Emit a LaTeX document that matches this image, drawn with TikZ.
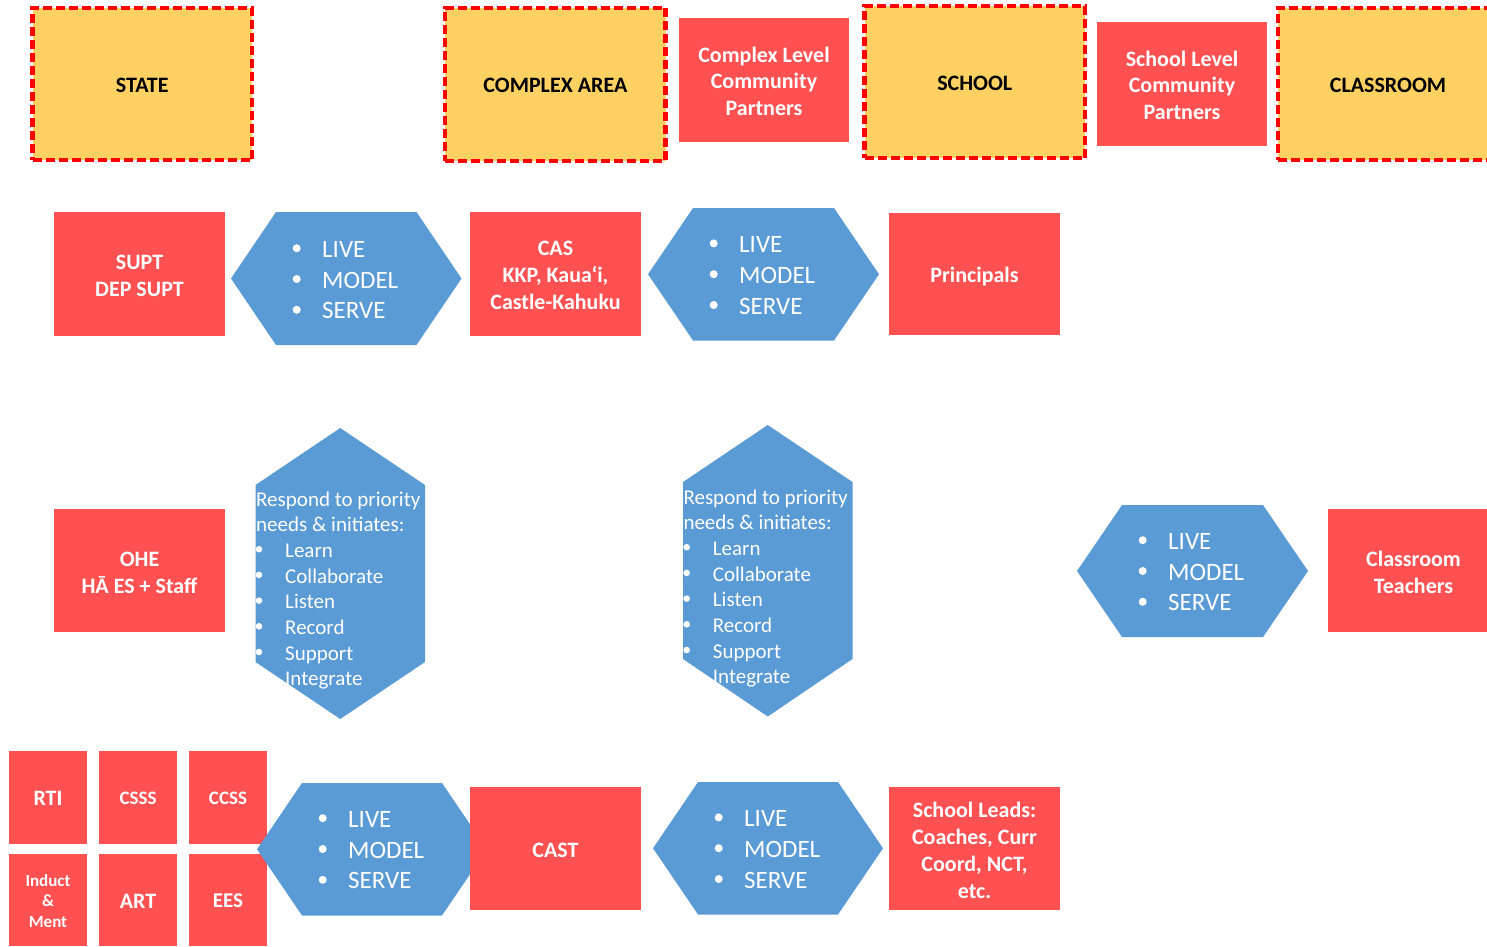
\documentclass[tikz,border=0pt]{standalone}
\usepackage{fontspec}
\setmainfont{Carlito}
\definecolor{boxred}{HTML}{FF5151}
\definecolor{lvlyellow}{HTML}{FED162}
\definecolor{hexblue}{HTML}{5B9BD5}
\definecolor{dashred}{HTML}{FF0000}

% horizontal hexagon: left, top, right, bottom
\newcommand\hhex[4]{%
  \fill[hexblue] (#1,{(#2+#4)/2}) -- ({#1+45},#2) -- ({#3-45},#2)
    -- (#3,{(#2+#4)/2}) -- ({#3-45},#4) -- ({#1+45},#4) -- cycle;}
% vertical hexagon: left, top apex, right, bottom apex, upper shoulder, lower shoulder
\newcommand\vhex[6]{%
  \fill[hexblue] ({(#1+#3)/2},#2) -- (#3,#5) -- (#3,#6)
    -- ({(#1+#3)/2},#4) -- (#1,#6) -- (#1,#5) -- cycle;}
% LIVE / MODEL / SERVE list: name prefix, hexagon left tip x, hexagon middle y
\newcommand\lmslist[3]{%
  \foreach \w [count=\k from 0] in {LIVE,MODEL,SERVE}{
    \fill[white] ({#2+65.7},{#3-21.8+30.8*\k-9}) circle (4);
    \node[hexitem] (#1t\k) at ({#2+91},{#3-21.8+30.8*\k}) {\w};
  }}
% priority list: name prefix, left x, bullet x, item x, first baseline
\newcommand\prilist[5]{%
  \node[priitem] (#1h0) at (#2,#5) {Respond to priority};
  \node[priitem] (#1h1) at (#2,{#5+25.7}) {needs \& initiates:};
  \foreach \w [count=\k from 2] in {Learn,Collaborate,Listen,Record,Support}{
    \fill[white] (#3,{#5+25.7*\k-8.2}) circle (3.3);
    \node[priitem] (#1t\k) at (#4,{#5+25.7*\k}) {\w};
  }
  \node[priitem] (#1t7) at (#4,{#5+25.7*7}) {Integrate};}

\begin{document}
\begin{tikzpicture}[x=1pt,y=-1pt,
  redbox/.style={fill=boxred, draw=none, text=white, align=center, inner sep=0,
    font=\fontsize{22}{26.8}\selectfont\bfseries},
  boxtext/.style={text=white, align=center, inner sep=0,
    font=\fontsize{22}{26.8}\selectfont\bfseries},
  smallbox/.style={redbox, minimum width=78, minimum height=93},
  levelbox/.style={fill=lvlyellow, draw=dashred, line width=4.2,
    dash pattern=on 9 off 4, inner sep=0},
  leveltext/.style={boxtext, text=black},
  hexitem/.style={anchor=base west, inner sep=0, text=white,
    font=\fontsize{25}{30.8}\selectfont},
  priitem/.style={anchor=base west, inner sep=0, text=white,
    font=\fontsize{21}{25.7}\selectfont}]
\useasboundingbox (0,0) rectangle (1487,946);
\clip (0,0) rectangle (1487,946);

% level headers
\node[levelbox, minimum width=219.5, minimum height=152.3] (state) at (142.25,83.85) {};
\node[leveltext] (state text) at ([yshift=-1.8pt]state.center) {STATE};
\node[levelbox, minimum width=220.2, minimum height=153.3] (area) at (555.4,84.35) {};
\node[leveltext] (area text) at ([yshift=-1.2pt]area.center) {COMPLEX AREA};
\node[levelbox, minimum width=220.5, minimum height=152] (school) at (974.75,82) {};
\node[leveltext] (school text) at ([yshift=-1.2pt]school.center) {SCHOOL};
\node[levelbox, minimum width=220, minimum height=152] (classroom) at (1388,84) {};
\node[leveltext] (classroom text) at ([yshift=-1.2pt]classroom.center) {CLASSROOM};

% community partners
\node[redbox, minimum width=170, minimum height=123.5] (clcp) at (764,79.75) {};
\node[boxtext] (clcp text) at ([yshift=-1.6pt]clcp.center) {Complex Level\\Community\\Partners};
\node[redbox, minimum width=170, minimum height=123.5] (slcp) at (1182,83.75) {};
\node[boxtext] (slcp text) at ([yshift=-1.6pt]slcp.center) {School Level\\Community\\Partners};

% second row
\node[redbox, minimum width=171, minimum height=123.5] (supt) at (139.5,273.75) {};
\node[boxtext] (supt text) at ([yshift=-2pt]supt.center) {SUPT\\DEP SUPT};
\hhex{231}{212}{461.5}{345}
\lmslist{ha}{231}{279}
\node[redbox, minimum width=171, minimum height=123.5] (cas) at (555.5,273.75) {};
\node[boxtext] (cas text) at ([yshift=-1.8pt]cas.center) {CAS\\KKP, Kaua‘i,\\Castle-Kahuku};
\hhex{648}{208}{879}{340.5}
\lmslist{hb}{648}{274.2}
\node[redbox, minimum width=171, minimum height=121.5] (principals) at (974.5,273.75) {};
\node[boxtext] (principals text) at ([yshift=-2.5pt]principals.center) {Principals};

% third row
\node[redbox, minimum width=171, minimum height=123] (ohe) at (139.5,570.5) {};
\node[boxtext] (ohe text) at ([yshift=-2pt]ohe.center) {OHE\\HĀ ES + Staff};
\vhex{255.5}{428}{425}{719}{485}{662}
\prilist{va}{256}{259}{285}{506}
\vhex{683}{425}{852.5}{716.5}{482}{659}
\prilist{vb}{683.3}{686.7}{712.7}{504}
\hhex{1077}{505}{1308}{637}
\lmslist{hc}{1077}{571}
\node[redbox, minimum width=171, minimum height=123] (teachers) at (1413.5,570.5) {};
\node[boxtext] (teachers text) at ([yshift=-1.5pt]teachers.center) {Classroom\\Teachers};

% fourth row: programme offices
\node[smallbox] (rti) at (48,797.5) {};
\node[boxtext] (rti text) at ([yshift=-1pt]rti.center) {RTI};
\node[smallbox] (csss) at (138,797.5) {};
\node[boxtext, font=\fontsize{19}{23}\selectfont\bfseries] (csss text) at ([yshift=-0.5pt]csss.center) {CSSS};
\node[smallbox] (ccss) at (228,797.5) {};
\node[boxtext, font=\fontsize{19}{23}\selectfont\bfseries] (ccss text) at ([yshift=-0.5pt]ccss.center) {CCSS};
\node[smallbox, minimum height=92] (induct) at (48,900) {};
\node[boxtext, font=\fontsize{17}{20.8}\selectfont\bfseries] (induct text) at ([yshift=-1pt]induct.center) {Induct\\\&\\Ment};
\node[smallbox, minimum height=92] (art) at (138,900) {};
\node[boxtext] (art text) at ([yshift=-1pt]art.center) {ART};
\node[smallbox, minimum height=92] (ees) at (228,900) {};
\node[boxtext, font=\fontsize{21}{25}\selectfont\bfseries] (ees text) at ([yshift=-1pt]ees.center) {EES};
\hhex{257}{783}{487}{915.5}
\lmslist{hd}{257}{849}
\node[redbox, minimum width=171, minimum height=123] (cast) at (555.5,848.5) {};
\node[boxtext] (cast text) at ([yshift=-1.8pt]cast.center) {CAST};
\hhex{653}{782}{883}{914.5}
\lmslist{he}{653}{848.2}
\node[redbox, minimum width=171, minimum height=123] (leads) at (974.5,848.5) {};
\node[boxtext] (leads text) at ([yshift=-1.8pt]leads.center) {School Leads:\\Coaches, Curr\\Coord, NCT,\\etc.};
\end{tikzpicture}
\end{document}
